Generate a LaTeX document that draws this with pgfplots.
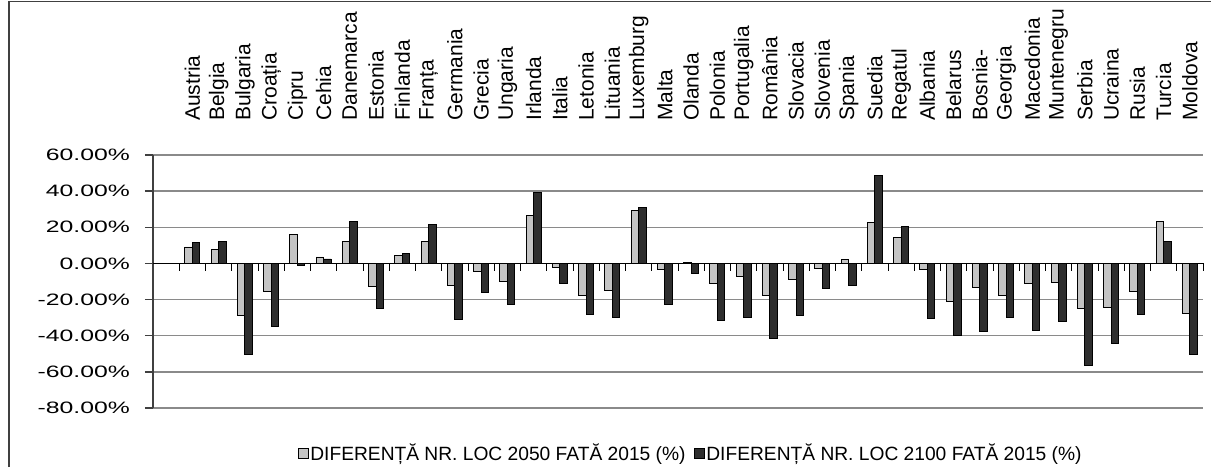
\documentclass[border=0pt]{standalone}
\usepackage{fontspec}
\setmainfont{Liberation Sans}
\usepackage{graphicx}
\usepackage{pgfplots}
\usepackage{pgfplotstable}
\pgfplotsset{compat=1.18}
\definecolor{lightbar}{HTML}{C4C4C4}
\definecolor{darkbar}{HTML}{2E2E2E}
\definecolor{gridgray}{HTML}{8A8A8A}
\definecolor{framegray}{HTML}{404040}

\pgfplotstableread{
x a b
1 9.1 11.8
2 7.6 12.4
3 -28.5 -50.4
4 -15.3 -34.7
5 16.0 -1.3
6 3.6 2.5
7 12.4 23.1
8 -12.5 -25.1
9 4.2 5.3
10 12.4 21.5
11 -12.2 -31.1
12 -4.5 -16.0
13 -10.0 -22.7
14 26.4 39.5
15 -2.4 -11.1
16 -17.6 -28.2
17 -14.7 -29.8
18 29.5 31.1
19 -3.3 -22.4
20 0.5 -5.6
21 -10.9 -31.5
22 -7.3 -29.8
23 -17.5 -41.6
24 -8.7 -28.5
25 -2.9 -13.6
26 2.2 -12.2
27 22.7 48.5
28 14.4 20.4
29 -3.3 -30.4
30 -20.9 -39.8
31 -13.1 -37.8
32 -17.5 -29.8
33 -10.9 -36.9
34 -10.4 -32.0
35 -24.9 -56.7
36 -24.4 -44.2
37 -15.3 -28.2
38 23.1 12.4
39 -27.5 -50.4
}\data

\begin{document}
\begin{tikzpicture}[x=1pt,y=1pt]
\useasboundingbox (0,0) rectangle (1211,467);
\draw[line width=1.5pt, color=framegray] (9,0) -- (9,465.5) -- (1211,465.5);
\begin{axis}[
  at={(153pt,59pt)}, anchor=south west,
  scale only axis, width=1050pt, height=253pt,
  xmin=-0.5, xmax=39.5, ymin=-80, ymax=60,
  axis x line*=top, x axis line style={draw=none},
  axis y line*=left, y axis line style={line width=1.4pt, framegray},
  xtick={1,...,39},
  xticklabels={Austria,Belgia,Bulgaria,Croația,Cipru,Cehia,Danemarca,Estonia,Finlanda,Franța,Germania,Grecia,Ungaria,Irlanda,Italia,Letonia,Lituania,Luxemburg,Malta,Olanda,Polonia,Portugalia,România,Slovacia,Slovenia,Spania,Suedia,Regatul,Albania,Belarus,Bosnia-,Georgia,Macedonia,Muntenegru,Serbia,Ucraina,Rusia,Turcia,Moldova},
  major x tick style={draw=none},
  xticklabel style={rotate=90, anchor=west, font=\fontsize{21}{21}\selectfont, inner sep=0pt},
  xticklabel shift=26pt,
  ytick={-80,-60,-40,-20,0,20,40,60},
  yticklabels={\scalebox{1.5}[1]{-80.00\%},\scalebox{1.5}[1]{-60.00\%},\scalebox{1.5}[1]{-40.00\%},\scalebox{1.5}[1]{-20.00\%},\scalebox{1.5}[1]{0.00\%},\scalebox{1.5}[1]{20.00\%},\scalebox{1.5}[1]{40.00\%},\scalebox{1.5}[1]{60.00\%}},
  yticklabel style={font=\fontsize{16.5}{16.5}\selectfont, inner sep=0pt, anchor=east},
  yticklabel shift=15pt,
  major y tick style={line width=1.4pt, framegray},
  tick align=outside, major tick length=8pt,
  ymajorgrids, grid style={gridgray, line width=1.4pt},
  clip=false,
  legend style={at={(0.512,-0.178)}, anchor=center, draw=none, fill=none,
    legend columns=2, font=\fontsize{19.2}{19.2}\selectfont, inner sep=0pt,
    /tikz/every even column/.append style={column sep=6pt}},
  legend image code/.code={\draw[#1] (0pt,-5pt) rectangle (10pt,5pt);},
]
\addplot[ybar, bar width=0.285, bar shift=-0.1425, fill=lightbar, draw=black, line width=0.8pt] table[x=x,y=a]{\data};
\addlegendentry{DIFERENȚĂ NR. LOC 2050 FATĂ 2015 (\%)}
\addplot[ybar, bar width=0.285, bar shift=0.1425, fill=darkbar, draw=black, line width=0.8pt] table[x=x,y=b]{\data};
\addlegendentry{DIFERENȚĂ NR. LOC 2100 FATĂ 2015 (\%)}
\draw[black, line width=0.9pt] (axis cs:-0.5,0) -- (axis cs:39.5,0);
\pgfplotsinvokeforeach{0,...,39}{\draw[black, line width=0.9pt] (axis cs:#1.5,0) -- ++(0pt,-8pt);}
\end{axis}
\end{tikzpicture}
\end{document}
